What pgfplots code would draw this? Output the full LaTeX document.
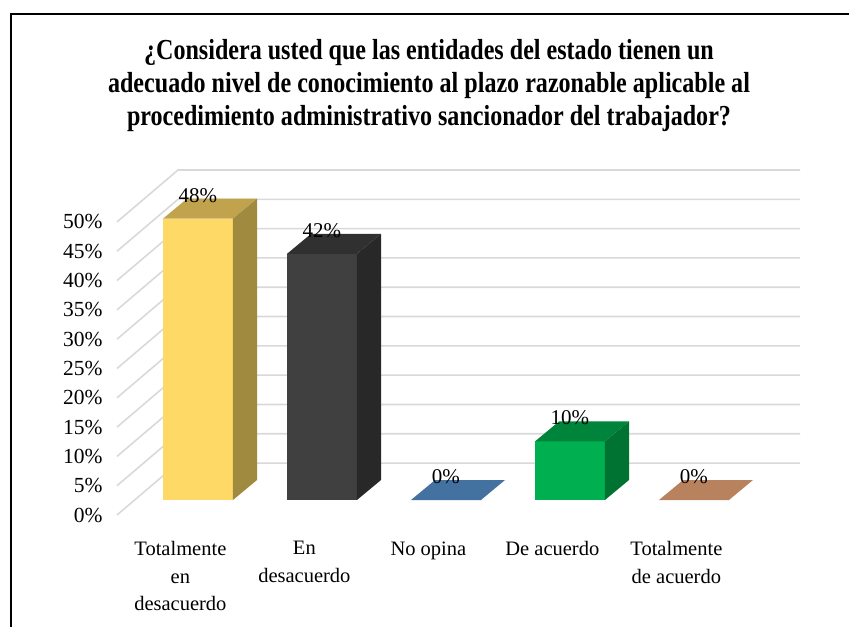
\documentclass[border=0pt]{standalone}
\usepackage{pgfplots}
\pgfplotsset{compat=1.18}
\usepackage{fontspec}
\setmainfont{Liberation Serif}
\newfontfamily\titlefont{Liberation Serif}[FakeStretch=0.83]
\definecolor{yF}{HTML}{FFD966}
\definecolor{yT}{HTML}{C0A34C}
\definecolor{yS}{HTML}{A08A40}
\definecolor{dF}{HTML}{404040}
\definecolor{dT}{HTML}{303030}
\definecolor{dS}{HTML}{282828}
\definecolor{bT}{HTML}{4472A0}
\definecolor{gF}{HTML}{00B050}
\definecolor{gT}{HTML}{00843C}
\definecolor{gS}{HTML}{007333}
\definecolor{brT}{HTML}{B9825F}
\definecolor{gridc}{HTML}{D9D9D9}
\begin{document}
\begin{tikzpicture}
\path[use as bounding box] (0,0) rectangle (849pt,-627pt);
\draw[line width=2pt] (849pt,-13.5pt) -- (11pt,-13.5pt) -- (11pt,-627pt);
\node[align=center, font=\titlefont\bfseries\fontsize{29}{33}\selectfont] at (429pt,-86pt)
 {¿Considera usted que las entidades del estado tienen un\\adecuado nivel de conocimiento al plazo razonable aplicable al\\procedimiento administrativo sancionador del trabajador?};
\begin{axis}[
 at={(117pt,-515pt)}, anchor=south west,
 scale only axis, width=683pt, height=345pt,
 xmin=-0.653, xmax=4.855, ymin=-2.56, ymax=56.3,
 clip=false, axis line style={draw=none}, tick style={draw=none},
 xtick={-0.142,0.858,1.858,2.858,3.858},
 xticklabels={Totalmente\\en\\desacuerdo, En\\desacuerdo, No opina, De acuerdo, Totalmente\\de acuerdo},
 xticklabel style={align=center, font=\fontsize{20.5}{27.5}\selectfont, yshift=-23pt},
 ytick={-2.56,2.44,7.44,12.44,17.44,22.44,27.44,32.44,37.44,42.44,47.44},
 yticklabels={0\%,5\%,10\%,15\%,20\%,25\%,30\%,35\%,40\%,45\%,50\%},
 yticklabel style={font=\fontsize{21.5}{24}\selectfont, xshift=-11pt},
 /pgf/number format/assume math mode=true,
]
% gridlines: side wall and back wall
\addplot[gridc, line width=1.6pt] coordinates {(-0.653,-2.56) (-0.161,6.3) (4.855,6.3)};
\addplot[gridc, line width=1.6pt] coordinates {(-0.653,2.44) (-0.161,11.3) (4.855,11.3)};
\addplot[gridc, line width=1.6pt] coordinates {(-0.653,7.44) (-0.161,16.3) (4.855,16.3)};
\addplot[gridc, line width=1.6pt] coordinates {(-0.653,12.44) (-0.161,21.3) (4.855,21.3)};
\addplot[gridc, line width=1.6pt] coordinates {(-0.653,17.44) (-0.161,26.3) (4.855,26.3)};
\addplot[gridc, line width=1.6pt] coordinates {(-0.653,22.44) (-0.161,31.3) (4.855,31.3)};
\addplot[gridc, line width=1.6pt] coordinates {(-0.653,27.44) (-0.161,36.3) (4.855,36.3)};
\addplot[gridc, line width=1.6pt] coordinates {(-0.653,32.44) (-0.161,41.3) (4.855,41.3)};
\addplot[gridc, line width=1.6pt] coordinates {(-0.653,37.44) (-0.161,46.3) (4.855,46.3)};
\addplot[gridc, line width=1.6pt] coordinates {(-0.653,42.44) (-0.161,51.3) (4.855,51.3)};
\addplot[gridc, line width=1.6pt] coordinates {(-0.653,47.44) (-0.161,56.3) (4.855,56.3)};
% Bar 0: 48
\addplot[fill=yF, draw=none] coordinates {(-0.282,0) (0.282,0) (0.282,48) (-0.282,48)} -- cycle;
\addplot[fill=yT, draw=none] coordinates {(-0.282,48) (0.282,48) (0.476,51.41) (-0.088,51.41)} -- cycle;
\addplot[fill=yS, draw=none] coordinates {(0.282,0) (0.476,3.41) (0.476,51.41) (0.282,48)} -- cycle;
% Bar 1: 42
\addplot[fill=dF, draw=none] coordinates {(0.718,0) (1.282,0) (1.282,42) (0.718,42)} -- cycle;
\addplot[fill=dT, draw=none] coordinates {(0.718,42) (1.282,42) (1.476,45.41) (0.912,45.41)} -- cycle;
\addplot[fill=dS, draw=none] coordinates {(1.282,0) (1.476,3.41) (1.476,45.41) (1.282,42)} -- cycle;
% Bar 2: 0
\addplot[fill=bT, draw=none] coordinates {(1.718,0) (2.282,0) (2.476,3.41) (1.912,3.41)} -- cycle;
% Bar 3: 10
\addplot[fill=gF, draw=none] coordinates {(2.718,0) (3.282,0) (3.282,10) (2.718,10)} -- cycle;
\addplot[fill=gT, draw=none] coordinates {(2.718,10) (3.282,10) (3.476,13.41) (2.912,13.41)} -- cycle;
\addplot[fill=gS, draw=none] coordinates {(3.282,0) (3.476,3.41) (3.476,13.41) (3.282,10)} -- cycle;
% Bar 4: 0
\addplot[fill=brT, draw=none] coordinates {(3.718,0) (4.282,0) (4.476,3.41) (3.912,3.41)} -- cycle;
% data labels
\addplot[draw=none, nodes near coords={\pgfmathprintnumber{\pgfplotspointmeta}\%},
 nodes near coords style={anchor=center, yshift=23.4pt, font=\fontsize{21}{24}\selectfont, text=black}]
 coordinates {(0,48) (1,42) (2,0) (3,10) (4,0)};
\end{axis}
\end{tikzpicture}
\end{document}
